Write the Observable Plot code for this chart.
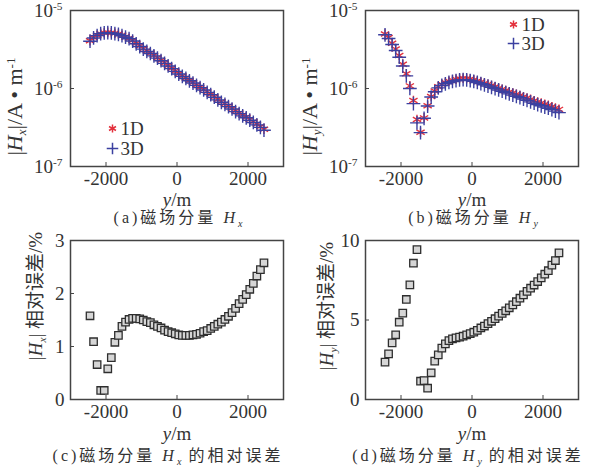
<!DOCTYPE html>
<html><head><meta charset="utf-8">
<script src="https://cdn.jsdelivr.net/npm/d3@7"></script>
<script src="https://cdn.jsdelivr.net/npm/@observablehq/plot@0.6"></script>
<style>
body{margin:0;background:#fff;}
#wrap{position:relative;width:593px;height:469px;overflow:hidden;font-family:"Liberation Serif","Noto Sans CJK SC",serif;color:#333;}
#wrap svg{position:absolute;}
.cap{position:absolute;font-size:16px;letter-spacing:3px;text-align:center;white-space:nowrap;line-height:1;}
.cap sub{font-size:10px;letter-spacing:0;}
</style></head>
<body><div id="wrap"></div>
<script>
// receiver positions y (m)
const positions = [-2450,-2350,-2250,-2150,-2050,-1950,-1850,-1750,-1650,-1550,-1450,-1350,-1250,-1150,-1050,-950,-850,-750,-650,-550,-450,-350,-250,-150,-50,50,150,250,350,450,550,650,750,850,950,1050,1150,1250,1350,1450,1550,1650,1750,1850,1950,2050,2150,2250,2350,2450];
// |Hx| (A/m)
const hx1D = [4.1e-6,4.5e-6,4.8e-6,5.05e-6,5.17e-6,5.24e-6,5.2e-6,5.12e-6,5.0e-6,4.82e-6,4.62e-6,4.42e-6,4.12e-6,3.8e-6,3.5e-6,3.25e-6,3.03e-6,2.85e-6,2.66e-6,2.48e-6,2.3e-6,2.13e-6,1.97e-6,1.82e-6,1.68e-6,1.55e-6,1.45e-6,1.36e-6,1.27e-6,1.19e-6,1.11e-6,1.04e-6,9.7e-7,9.05e-7,8.45e-7,7.85e-7,7.25e-7,6.75e-7,6.35e-7,5.95e-7,5.55e-7,5.15e-7,4.85e-7,4.55e-7,4.3e-7,4.0e-7,3.75e-7,3.5e-7,3.25e-7,3.0e-7];
const hx3D = [4.04e-6,4.45e-6,4.77e-6,5.04e-6,5.16e-6,5.21e-6,5.16e-6,5.06e-6,4.94e-6,4.75e-6,4.55e-6,4.35e-6,4.06e-6,3.74e-6,3.45e-6,3.2e-6,2.985e-6,2.81e-6,2.62e-6,2.45e-6,2.27e-6,2.1e-6,1.945e-6,1.797e-6,1.659e-6,1.531e-6,1.432e-6,1.344e-6,1.255e-6,1.175e-6,1.096e-6,1.027e-6,9.58e-7,8.93e-7,8.34e-7,7.74e-7,7.15e-7,6.65e-7,6.25e-7,5.86e-7,5.46e-7,5.06e-7,4.76e-7,4.46e-7,4.21e-7,3.92e-7,3.67e-7,3.42e-7,3.17e-7,2.92e-7];
// |Hy| (A/m)
const hy1D = [5.0e-6,4.5e-6,3.8e-6,3.2e-6,2.65e-6,2.05e-6,1.55e-6,1.08e-6,7.0e-7,4.0e-7,2.75e-7,4.2e-7,6.0e-7,7.9e-7,9.3e-7,1.05e-6,1.13e-6,1.19e-6,1.24e-6,1.28e-6,1.31e-6,1.34e-6,1.35e-6,1.34e-6,1.32e-6,1.29e-6,1.25e-6,1.21e-6,1.17e-6,1.13e-6,1.09e-6,1.05e-6,1.01e-6,9.75e-7,9.4e-7,9.05e-7,8.75e-7,8.45e-7,8.15e-7,7.85e-7,7.55e-7,7.25e-7,6.98e-7,6.72e-7,6.5e-7,6.28e-7,6.08e-7,5.85e-7,5.62e-7,5.4e-7];
const hy3D = [4.88e-6,4.37e-6,3.66e-6,3.07e-6,2.52e-6,1.94e-6,1.45e-6,1.0e-6,6.4e-7,3.62e-7,2.72e-7,4.15e-7,5.96e-7,7.77e-7,9.08e-7,1.02e-6,1.094e-6,1.148e-6,1.194e-6,1.231e-6,1.259e-6,1.287e-6,1.296e-6,1.286e-6,1.265e-6,1.235e-6,1.196e-6,1.156e-6,1.116e-6,1.076e-6,1.036e-6,9.97e-7,9.57e-7,9.22e-7,8.88e-7,8.53e-7,8.23e-7,7.93e-7,7.63e-7,7.33e-7,7.04e-7,6.74e-7,6.48e-7,6.22e-7,6.0e-7,5.79e-7,5.59e-7,5.36e-7,5.13e-7,4.9e-7];
// relative errors (%)
const errHx = [1.58,1.09,0.66,0.17,0.17,0.58,0.79,1.08,1.21,1.38,1.46,1.51,1.53,1.53,1.52,1.50,1.47,1.45,1.41,1.38,1.35,1.31,1.28,1.26,1.24,1.22,1.21,1.21,1.21,1.22,1.23,1.25,1.28,1.30,1.34,1.38,1.42,1.46,1.51,1.57,1.64,1.72,1.81,1.89,1.98,2.08,2.19,2.33,2.45,2.58];
const errHy = [2.35,2.87,3.56,4.07,4.86,5.43,6.29,7.21,8.57,9.43,1.15,1.19,0.71,1.68,2.41,2.81,3.23,3.50,3.70,3.82,3.88,3.92,3.98,4.06,4.15,4.23,4.35,4.50,4.62,4.77,4.92,5.08,5.24,5.42,5.58,5.77,5.95,6.15,6.37,6.58,6.80,7.00,7.20,7.42,7.65,7.88,8.10,8.45,8.74,9.22];

const xTicks = [-2000, 0, 2000];
const logTicks = [1e-7, 1e-6, 1e-5];
const errHxTicks = [0, 1, 2, 3];
const errHyTicks = [0, 5, 10];
const models = ["1D", "3D"];
const modelColors = ["#e3313d", "#3b40a0"];
const modelSymbols = ["asterisk", "plus"];

const FONT = '"Liberation Serif","Noto Sans CJK SC",serif';
const wrap = document.getElementById("wrap");

function rich(el, parts) {
  const t = d3.select(el);
  t.text(null);
  let shift = 0;
  for (const p of parts) {
    const ts = t.append("tspan").text(p.t);
    let target = p.sub ? 4 : p.sup ? -7 : 0;
    if (target !== shift) { ts.attr("dy", target - shift); shift = target; }
    if (p.i) ts.attr("font-style", "italic");
    if (p.sub || p.sup) ts.attr("font-size", "0.6em");
  }
}

function post(svg, ylabelParts, xlabelParts, ylabelDx, ylabelSize) {
  const s = d3.select(svg);
  s.selectAll('g[aria-label="y-axis tick label"] text').each(function() {
    const txt = this.textContent;
    if (txt.includes("^")) {
      const [b, e] = txt.split("^");
      rich(this, [{t: b}, {t: e, sup: true}]);
    }
  });
  s.selectAll('g[aria-label="y-axis label"] text').each(function() {
    rich(this, ylabelParts);
    d3.select(this).attr("dx", ylabelDx).attr("font-size", ylabelSize);
  });
  s.selectAll('g[aria-label="x-axis label"] text').each(function() { rich(this, xlabelParts); });
}

const xLabelParts = [{t: "y", i: true}, {t: "/m"}];

function fieldPanel(v1, v3, legend, ylabText, opts) {
  const rows = [
    ...positions.map((p, i) => ({p, v: v1[i], m: models[0]})),
    ...positions.map((p, i) => ({p, v: v3[i], m: models[1]}))
  ];
  const legendMarks = models.flatMap((m, k) => [
    Plot.dot([m], {frameAnchor: legend.anchor, dx: legend.dx, dy: legend.dy + k * legend.step, symbol: d => d, stroke: d => d, r: 3.8, strokeWidth: 1.5}),
    Plot.text([m], {frameAnchor: legend.anchor, lineAnchor: "middle", dx: legend.dx + 8, dy: legend.dy + k * legend.step, text: d => d, textAnchor: "start", fontSize: 19, fill: "#333"})
  ]);
  return Plot.plot({
    width: opts.width, height: 225, marginLeft: 70, marginRight: opts.mr, marginTop: 10, marginBottom: 59,
    style: {fontFamily: FONT, fontSize: "19px", color: "#333", background: "transparent"},
    x: {domain: [-3000, 3000]},
    y: {type: "log", domain: [1e-7, 1e-5]},
    symbol: {domain: models, range: modelSymbols},
    color: {domain: models, range: modelColors},
    marks: [
      Plot.frame({stroke: "#444", strokeWidth: 1.5}),
      Plot.axisX({ticks: xTicks, tickSize: -4, tickPadding: 9, tickFormat: d => String(d), label: "y/m", labelAnchor: "center", labelOffset: 39, stroke: "#444"}),
      Plot.axisY({ticks: logTicks, tickSize: -4, tickPadding: 12, tickFormat: d => "10^" + Math.round(Math.log10(d)), label: ylabText, labelAnchor: "center", labelOffset: 64, stroke: "#444"}),
      Plot.dot(rows, {x: "p", y: "v", symbol: "m", stroke: "m", r: 4.5, strokeWidth: 1.4}),
      ...legendMarks
    ]
  });
}

function errPanel(vals, ticks, maxV, ylabText, opts) {
  const rows = positions.map((p, i) => ({p, e: vals[i]}));
  return Plot.plot({
    width: opts.width, height: 239, marginLeft: 70, marginRight: opts.mr, marginTop: 10, marginBottom: 70,
    style: {fontFamily: FONT, fontSize: "19px", color: "#333", background: "transparent"},
    x: {domain: [-3000, 3000]},
    y: {domain: [0, maxV]},
    marks: [
      Plot.frame({stroke: "#444", strokeWidth: 1.5}),
      Plot.axisX({ticks: xTicks, tickSize: -4, tickPadding: 9, tickFormat: d => String(d), label: "y/m", labelAnchor: "center", labelOffset: 40, stroke: "#444"}),
      Plot.axisY({ticks: ticks, tickSize: -4, tickPadding: 10, tickFormat: d => String(d), label: ylabText, labelAnchor: "center", labelOffset: opts.lo, stroke: "#444"}),
      Plot.dot(rows, {x: "p", y: "e", symbol: "square", r: 4.2, fill: "#d6d6d6", stroke: "#2e2e2e", strokeWidth: 1.3})
    ]
  });
}

function place(svg, left, top) {
  svg.style.left = left + "px";
  svg.style.top = top + "px";
  wrap.appendChild(svg);
}

const a = fieldPanel(hx1D, hx3D, {anchor: "bottom-left", dx: 42, dy: -38, step: 20}, "|Hx|/A • m-1", {width: 296, mr: 13});
post(a, [{t: "|"}, {t: "H", i: true}, {t: "x", i: true, sub: true}, {t: "|/A • m"}, {t: "-1", sup: true}], xLabelParts, -18, 22);
place(a, 0, 0);

const b = fieldPanel(hy1D, hy3D, {anchor: "top-left", dx: 148, dy: 14, step: 19}, "|Hy|/A • m-1", {width: 298, mr: 15});
post(b, [{t: "|"}, {t: "H", i: true}, {t: "y", i: true, sub: true}, {t: "|/A • m"}, {t: "-1", sup: true}], xLabelParts, -18, 22);
place(b, 295, 0);

const c = errPanel(errHx, errHxTicks, 3, "|Hx| 相对误差/%", {width: 296, mr: 13, lo: 42});
post(c, [{t: "|"}, {t: "H", i: true}, {t: "x", i: true, sub: true}, {t: "| 相对误差/%"}], xLabelParts, 24, 19);
place(c, 0, 230);

const dd = errPanel(errHy, errHyTicks, 10, "|Hy| 相对误差/%", {width: 298, mr: 15, lo: 46});
post(dd, [{t: "|"}, {t: "H", i: true}, {t: "y", i: true, sub: true}, {t: "| 相对误差/%"}], xLabelParts, 14, 19);
place(dd, 295, 230);

// captions
const caps = [
  {html: "(a)磁场分量 <i>H</i><sub><i>x</i></sub>", left: 58, top: 210, width: 240},
  {html: "(b)磁场分量 <i>H</i><sub><i>y</i></sub>", left: 353, top: 210, width: 240},
  {html: "(c)磁场分量 <i>H</i><sub><i>x</i></sub> 的相对误差", left: 48, top: 448, width: 240},
  {html: "(d)磁场分量 <i>H</i><sub><i>y</i></sub> 的相对误差", left: 343, top: 448, width: 250}
];
for (const cp of caps) {
  const d = document.createElement("div");
  d.className = "cap";
  d.innerHTML = cp.html;
  d.style.left = cp.left + "px";
  d.style.top = cp.top + "px";
  d.style.width = cp.width + "px";
  wrap.appendChild(d);
}
</script>
</body></html>
